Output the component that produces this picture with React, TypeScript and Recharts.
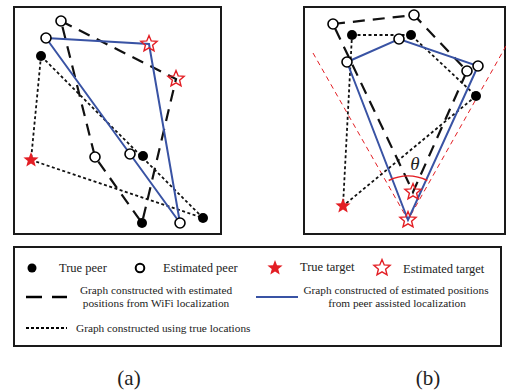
import React from "react";
import { ScatterChart, Scatter, XAxis, YAxis } from "recharts";

type Pt = { x: number; y: number };

// panel (a) positions (local units, origin at top-left of the frame)
const truePeersA: Pt[] = [
  { x: 28, y: 50 },
  { x: 130, y: 150 },
  { x: 129, y: 217 },
  { x: 190, y: 212 },
];
const estPeersA: Pt[] = [
  { x: 48, y: 15 },
  { x: 33, y: 32 },
  { x: 82, y: 151 },
  { x: 117, y: 148 },
  { x: 167, y: 217 },
];
const trueTargetA: Pt[] = [{ x: 18, y: 154 }];
const estTargetsA: Pt[] = [
  { x: 136, y: 38 },
  { x: 163, y: 73 },
];
const wifiGraphA: Pt[] = [
  { x: 48, y: 15 },
  { x: 163, y: 73 },
  { x: 129, y: 217 },
  { x: 82, y: 151 },
  { x: 48, y: 15 },
];
const peerGraphA: Pt[] = [
  { x: 33, y: 32 },
  { x: 136, y: 38 },
  { x: 167, y: 217 },
  { x: 33, y: 32 },
];
const trueGraphA: Pt[] = [
  { x: 28, y: 50 },
  { x: 18, y: 154 },
  { x: 190, y: 212 },
  { x: 28, y: 50 },
];

// panel (b)
const truePeersB: Pt[] = [
  { x: 49, y: 29 },
  { x: 108, y: 29 },
  { x: 173, y: 90 },
];
const estPeersB: Pt[] = [
  { x: 30, y: 18 },
  { x: 111, y: 9 },
  { x: 96, y: 33 },
  { x: 44, y: 56 },
  { x: 164, y: 65 },
  { x: 175, y: 60 },
];
const trueTargetB: Pt[] = [{ x: 40, y: 200 }];
const estTargetsB: Pt[] = [
  { x: 110, y: 186 },
  { x: 105, y: 214 },
];
const wifiGraphB: Pt[] = [
  { x: 30, y: 18 },
  { x: 111, y: 9 },
  { x: 164, y: 65 },
  { x: 110, y: 186 },
  { x: 30, y: 18 },
];
const peerGraphB: Pt[] = [
  { x: 44, y: 56 },
  { x: 96, y: 33 },
  { x: 175, y: 60 },
  { x: 105, y: 214 },
  { x: 44, y: 56 },
];
const trueGraphB: Pt[] = [
  { x: 49, y: 29 },
  { x: 108, y: 29 },
  { x: 173, y: 90 },
  { x: 40, y: 200 },
  { x: 49, y: 29 },
];
const coneB: Pt[] = [
  { x: 10, y: 47 },
  { x: 105, y: 214 },
  { x: 203, y: 40 },
];
const angleVertexB: Pt[] = [{ x: 105, y: 214 }];
const thetaB: Pt[] = [{ x: 112, y: 157 }];

const BLUE = "#3953a4";
const RED = "#e31e24";
const SERIF = "'Liberation Serif', 'DejaVu Serif', serif";

function starPath(cx: number, cy: number, R: number, r: number) {
  let d = "";
  for (let i = 0; i < 10; i++) {
    const a = ((-90 + i * 36) * Math.PI) / 180;
    const rad = i % 2 === 0 ? R : r;
    d += (i === 0 ? "M" : "L") + (cx + rad * Math.cos(a)).toFixed(2) + "," + (cy + rad * Math.sin(a)).toFixed(2);
  }
  return d + "Z";
}

const NoShape = () => <g />;
const FilledDot = (p: any) => <circle cx={p.cx} cy={p.cy} r={5} fill="#000" />;
const OpenDot = (p: any) => (
  <circle cx={p.cx} cy={p.cy} r={5} fill="#fff" stroke="#000" strokeWidth={1.6} />
);
const FilledStar = (p: any) => <path d={starPath(p.cx, p.cy, 8, 3.4)} fill={RED} />;
const OpenStar = (p: any) => (
  <path d={starPath(p.cx, p.cy, 8.5, 3.8)} fill="none" stroke={RED} strokeWidth={1.4} />
);
const AngleArc = (p: any) => {
  const R = 44;
  const a1 = (-116 * Math.PI) / 180;
  const a2 = (-64 * Math.PI) / 180;
  return (
    <path
      d={`M${p.cx + R * Math.cos(a1)},${p.cy + R * Math.sin(a1)} A${R},${R} 0 0 1 ${p.cx + R * Math.cos(a2)},${p.cy + R * Math.sin(a2)}`}
      fill="none"
      stroke={RED}
      strokeWidth={1.5}
    />
  );
};
const Theta = (p: any) => (
  <text x={p.cx} y={p.cy} textAnchor="middle" dominantBaseline="central" fontFamily={SERIF} fontStyle="italic" fontSize={19} fill="#222">
    θ
  </text>
);

const dashedLine = { stroke: "#111", strokeWidth: 2.2, strokeDasharray: "12 8" };
const dottedLine = { stroke: "#111", strokeWidth: 1.8, strokeDasharray: "3 2.5" };
const blueLine = { stroke: BLUE, strokeWidth: 2 };
const coneLine = { stroke: RED, strokeWidth: 1, strokeDasharray: "5 4" };

function Frame({ left, top, w, h, children }: any) {
  return (
    <div style={{ position: "absolute", left, top, width: w, height: h }}>
      <div style={{ position: "absolute", inset: 0, border: "2px solid #1a1a1a", boxSizing: "border-box" }} />
      <div style={{ position: "absolute", left: 0, top: 0 }}>
        <ScatterChart width={w} height={h} margin={{ top: 0, right: 0, bottom: 0, left: 0 }}>
          <XAxis type="number" dataKey="x" domain={[0, w]} hide />
          <YAxis type="number" dataKey="y" domain={[0, h]} reversed hide />
          {children}
        </ScatterChart>
      </div>
    </div>
  );
}

const LegendSvg = () => (
  <svg width={510} height={392} style={{ position: "absolute", left: 0, top: 0 }}>
    <rect x={14} y={247} width={487} height={99} fill="none" stroke="#1a1a1a" strokeWidth={2} />
    <g fontFamily={SERIF} fill="#222">
      <circle cx={32} cy={268} r={4.5} fill="#000" />
      <text x={59} y={268} fontSize={12.5} dominantBaseline="central">True peer</text>
      <circle cx={140} cy={268} r={4.3} fill="#fff" stroke="#000" strokeWidth={2} />
      <text x={163} y={268} fontSize={12.5} dominantBaseline="central">Estimated peer</text>
      <path d={starPath(275, 268, 8, 3.4)} fill={RED} />
      <text x={300} y={267} fontSize={12.5} dominantBaseline="central">True target</text>
      <path d={starPath(382, 268, 8.5, 3.8)} fill="none" stroke={RED} strokeWidth={1.4} />
      <text x={403} y={269} fontSize={12.5} dominantBaseline="central">Estimated target</text>

      <line x1={26} y1={297} x2={42} y2={297} stroke="#000" strokeWidth={2.5} />
      <line x1={52} y1={297} x2={67} y2={297} stroke="#000" strokeWidth={2.5} />
      <text x={156} y={290} fontSize={11.3} textAnchor="middle" dominantBaseline="central">Graph constructed with estimated</text>
      <text x={156} y={303} fontSize={11.3} textAnchor="middle" dominantBaseline="central">positions from WiFi localization</text>
      <line x1={256} y1={297} x2={298} y2={297} stroke={BLUE} strokeWidth={2} />
      <text x={396} y={290} fontSize={11.3} textAnchor="middle" dominantBaseline="central">Graph constructed of estimated positions</text>
      <text x={397} y={303} fontSize={11.3} textAnchor="middle" dominantBaseline="central">from peer assisted localization</text>

      <line x1={26} y1={328} x2={67} y2={328} stroke="#000" strokeWidth={2} strokeDasharray="3 2" />
      <text x={76} y={328} fontSize={11.3} dominantBaseline="central">Graph constructed using true locations</text>

      <text x={129} y={378} fontSize={21} textAnchor="middle" dominantBaseline="central">(a)</text>
      <text x={428} y={378} fontSize={21} textAnchor="middle" dominantBaseline="central">(b)</text>
    </g>
  </svg>
);

export default function App() {
  return (
    <div style={{ position: "absolute", left: 0, top: 0, width: 510, height: 392, background: "#fff" }}>
      <LegendSvg />
      <Frame left={13} top={6} w={209} h={229}>
        <Scatter data={trueGraphA} line={dottedLine} shape={NoShape} isAnimationActive={false} />
        <Scatter data={wifiGraphA} line={dashedLine} shape={NoShape} isAnimationActive={false} />
        <Scatter data={peerGraphA} line={blueLine} shape={NoShape} isAnimationActive={false} />
        <Scatter data={truePeersA} shape={FilledDot} isAnimationActive={false} />
        <Scatter data={estPeersA} shape={OpenDot} isAnimationActive={false} />
        <Scatter data={trueTargetA} shape={FilledStar} isAnimationActive={false} />
        <Scatter data={estTargetsA} shape={OpenStar} isAnimationActive={false} />
      </Frame>
      <Frame left={303} top={6} w={203} h={229}>
        <Scatter data={coneB} line={coneLine} shape={NoShape} isAnimationActive={false} />
        <Scatter data={trueGraphB} line={dottedLine} shape={NoShape} isAnimationActive={false} />
        <Scatter data={wifiGraphB} line={dashedLine} shape={NoShape} isAnimationActive={false} />
        <Scatter data={peerGraphB} line={blueLine} shape={NoShape} isAnimationActive={false} />
        <Scatter data={angleVertexB} shape={AngleArc} isAnimationActive={false} />
        <Scatter data={thetaB} shape={Theta} isAnimationActive={false} />
        <Scatter data={truePeersB} shape={FilledDot} isAnimationActive={false} />
        <Scatter data={estPeersB} shape={OpenDot} isAnimationActive={false} />
        <Scatter data={trueTargetB} shape={FilledStar} isAnimationActive={false} />
        <Scatter data={estTargetsB} shape={OpenStar} isAnimationActive={false} />
      </Frame>
    </div>
  );
}
